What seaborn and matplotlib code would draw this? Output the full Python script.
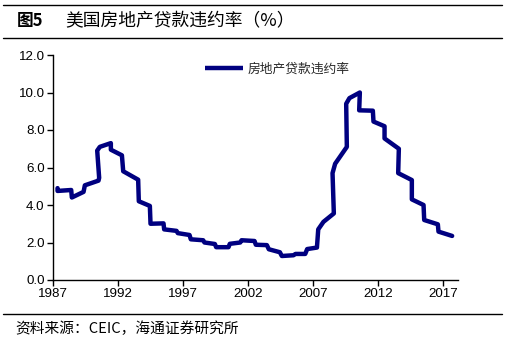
import matplotlib
matplotlib.use("Agg")
import matplotlib.pyplot as plt
import seaborn as sns
import pandas as pd
from matplotlib.lines import Line2D

# ---- data ----
years = [1987.35, 1987.35, 1988.4, 1988.45, 1989.35, 1989.45, 1990.5, 1990.55, 1990.4, 1990.6,
         1991.45, 1991.45, 1992.3, 1992.4, 1993.55, 1993.6, 1994.45, 1994.5, 1995.5, 1995.55,
         1996.5, 1996.6, 1997.5, 1997.6, 1998.55, 1998.65, 1999.45, 1999.55, 2000.5, 2000.6,
         2001.4, 2001.5, 2002.5, 2002.6, 2003.45, 2003.6, 2004.45, 2004.6, 2005.5, 2005.65,
         2006.4, 2006.55, 2007.3, 2007.4, 2007.8, 2008.6, 2008.5, 2008.7, 2009.6, 2009.55,
         2009.8, 2010.6, 2010.55, 2011.6, 2011.65, 2012.5, 2012.5, 2013.6, 2013.55, 2014.6,
         2014.6, 2015.5, 2015.55, 2016.6, 2016.65, 2017.7]
rates = [4.9, 4.75, 4.8, 4.4, 4.7, 5.05, 5.3, 5.45, 6.9, 7.1,
         7.3, 6.95, 6.65, 5.8, 5.35, 4.2, 3.95, 3.0, 3.02, 2.7,
         2.62, 2.5, 2.4, 2.17, 2.12, 2.0, 1.92, 1.75, 1.75, 1.93,
         2.0, 2.12, 2.08, 1.88, 1.86, 1.64, 1.48, 1.28, 1.32, 1.39,
         1.39, 1.65, 1.73, 2.7, 3.1, 3.55, 5.7, 6.2, 7.1, 9.4,
         9.7, 10.0, 9.05, 9.03, 8.45, 8.2, 7.55, 7.0, 5.7, 5.33,
         4.3, 4.0, 3.2, 2.97, 2.58, 2.35]
series_name = "房地产贷款违约率"
xticks = [1987, 1992, 1997, 2002, 2007, 2012, 2017]
yticks = [0, 2, 4, 6, 8, 10, 12]
title_num = "图5"
title_text = "美国房地产贷款违约率（%）"
source_text = "资料来源：CEIC，海通证券研究所"

df = pd.DataFrame({"year": years, "rate": rates})

sns.set_theme(style="white")
plt.rcParams['font.family'] = ['Liberation Sans', 'Noto Sans CJK SC', 'DejaVu Sans']
cjk = ['Noto Sans CJK SC', 'DejaVu Sans']

W, H = 513, 341
fig = plt.figure(figsize=(W / 100, H / 100), dpi=100)
ax = fig.add_axes([53 / W, 1 - 280 / H, (458 - 53) / W, (280 - 55) / H])

sns.lineplot(data=df, x="year", y="rate", sort=False, estimator=None,
             color="#000080", lw=3.2, label=series_name, ax=ax,
             solid_joinstyle="round", solid_capstyle="round")

ax.set_xlim(1987, 2018.15)
ax.set_ylim(0, 12)
ax.set_xticks(xticks)
ax.set_xticklabels([str(t) for t in xticks])
ax.set_yticks(yticks)
ax.set_yticklabels([f"{t:.1f}" for t in yticks])
ax.set_xlabel("")
ax.set_ylabel("")
for s in ["top", "right"]:
    ax.spines[s].set_visible(False)
for s in ["left", "bottom"]:
    ax.spines[s].set_color("black")
    ax.spines[s].set_linewidth(1.0)
ax.tick_params(axis="both", direction="out", length=4, width=1, color="black",
               labelsize=9.6, labelcolor="black", pad=2,
               bottom=True, left=True)
ax.grid(False)

leg = ax.legend(loc="center left", bbox_to_anchor=(205 / W, 1 - 69 / H),
                bbox_transform=fig.transFigure, frameon=False, borderpad=0,
                borderaxespad=0, handlelength=3.0, handletextpad=0.35,
                prop={'family': cjk, 'size': 9.2})
for h in leg.get_lines():
    h.set_solid_capstyle("butt")

# header / footer
fig.text(17 / W, 1 - 21 / H, title_num, family=cjk, fontsize=12,
         fontweight="bold", va="center", ha="left", color="black")
fig.text(65 / W, 1 - 21 / H, title_text, family=cjk, fontsize=12.8,
         va="center", ha="left", color="black")
fig.text(15 / W, 1 - 329 / H, source_text, family=cjk, fontsize=10.6,
         va="center", ha="left", color="black")

for yy in [5, 38, 314]:
    fig.add_artist(Line2D([3 / W, 502 / W], [1 - yy / H, 1 - yy / H],
                          transform=fig.transFigure, color="black", lw=1.0))

fig.savefig("out.png", dpi=100)
